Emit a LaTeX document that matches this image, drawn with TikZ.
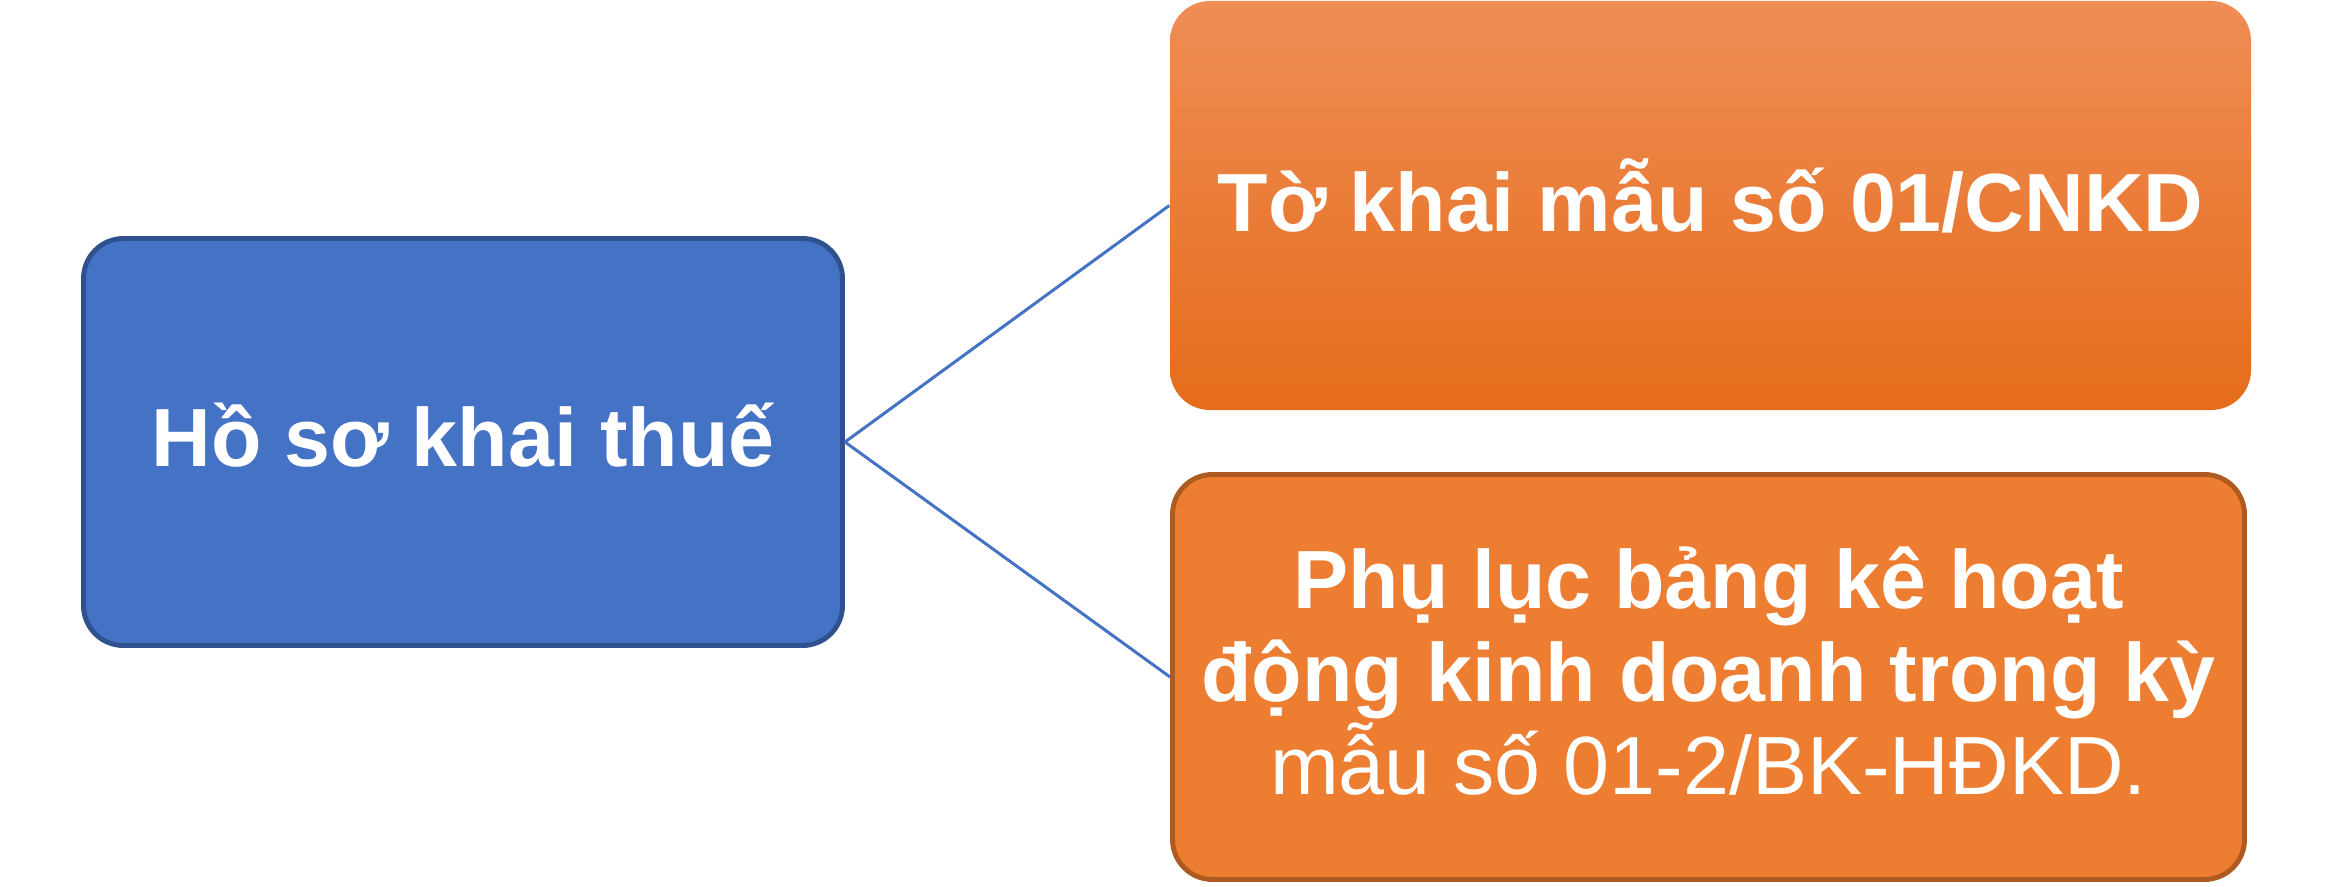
\documentclass[tikz,border=0pt]{standalone}
\usepackage{fontspec}
\setmainfont{Liberation Sans}
\definecolor{hsblue}{HTML}{4472C4}
\definecolor{hsblueline}{HTML}{2F528F}
\definecolor{tktop}{HTML}{EF8D55}
\definecolor{tkbottom}{HTML}{E56C1B}
\definecolor{plfill}{HTML}{ED7D31}
\definecolor{plline}{HTML}{AE5A21}
\begin{document}
\begin{tikzpicture}[
    box/.style={rounded corners=0.4cm, text=white, align=center, inner sep=0pt,
      font=\fontsize{23.5}{26.5}\selectfont\bfseries},
    link/.style={draw=hsblue, line width=0.85pt}]
  \useasboundingbox (0,0) rectangle (23.35,-8.86);
  \node [box, fill=hsblue, draw=hsblueline, line width=1.4pt, minimum width=7.59cm, minimum height=4.07cm,
    text height=0.48cm, text depth=0cm] (hoso) at (4.63,-4.42) {Hồ sơ khai thuế};
  \node [box, top color=tktop, bottom color=tkbottom, minimum width=10.81cm, minimum height=4.09cm,
    text height=0.51cm, text depth=0cm] (tokhai) at (17.105,-2.055) {Tờ khai mẫu số 01/CNKD};
  \node [box, fill=plfill, draw=plline, line width=1.4pt, minimum width=10.72cm, minimum height=4.05cm]
    (phuluc) at (17.085,-6.77) {Phụ lục bảng kê hoạt\\ động kinh doanh trong kỳ\\ {\mdseries mẫu số 01-2/BK-HĐKD.}\rule[-0.13cm]{0pt}{0pt}};
  \draw [link] (hoso.east) -- (tokhai.west) (hoso.east) -- (phuluc.west);
\end{tikzpicture}
\end{document}
